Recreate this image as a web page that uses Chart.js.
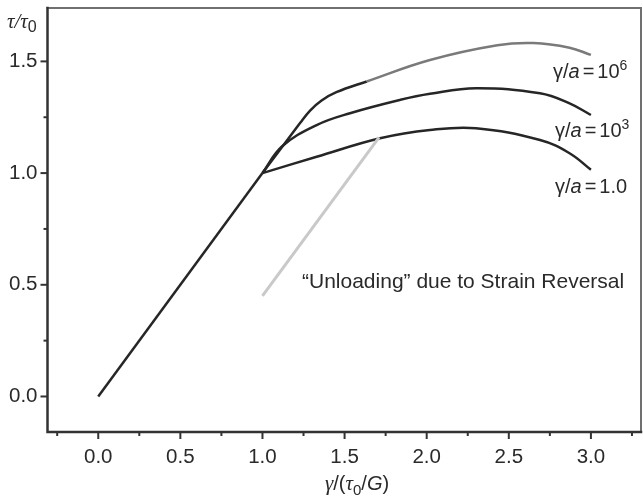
<!DOCTYPE html>
<html>
<head>
<meta charset="utf-8">
<script src="https://cdn.jsdelivr.net/npm/chart.js@4.4.0/dist/chart.umd.min.js"></script>
<style>
html,body{margin:0;padding:0;background:#fff;}
canvas{display:block;}
</style>
</head>
<body>
<canvas id="c" width="643" height="497"></canvas>
<script>
// ---- data ----
const xTickLabels = [0.0, 0.5, 1.0, 1.5, 2.0, 2.5, 3.0];
const yTickLabels = [0.0, 0.5, 1.0, 1.5];
const elasticX = [0.0, 1.0];
const elasticY = [0.0, 1.0];
const curve1X = [1.0, 1.33, 1.716, 2.02, 2.3, 2.69, 2.87, 3.0];
const curve1Y = [1.0, 1.073, 1.156, 1.193, 1.201, 1.148, 1.089, 1.015];
const curve3X = [1.0, 1.12, 1.33, 1.533, 1.84, 2.02, 2.3, 2.69, 2.87, 3.0];
const curve3Y = [1.0, 1.12, 1.215, 1.268, 1.328, 1.355, 1.38, 1.357, 1.312, 1.26];
const curve6X = [1.0, 1.23, 1.29, 1.36, 1.45, 1.635, 2.02, 2.43, 2.65, 2.87, 3.0];
const curve6Y = [1.0, 1.225, 1.28, 1.325, 1.362, 1.41, 1.506, 1.572, 1.582, 1.561, 1.529];
const unloadX = [1.0, 1.71];
const unloadY = [0.45, 1.16];
const seriesLabels = ['γ/a = 1.0', 'γ/a = 10³', 'γ/a = 10⁶'];

const pts = (xs, ys) => xs.map((x, i) => ({x: x, y: ys[i]}));

function drawRuns(ctx, runs, x, y) {
  ctx.save();
  ctx.textBaseline = 'alphabetic';
  ctx.textAlign = 'left';
  let cx = x;
  for (const r of runs) {
    ctx.font = r.font;
    ctx.fillStyle = r.color || '#2a2a2a';
    ctx.fillText(r.t, cx, y + (r.dy || 0));
    cx += ctx.measureText(r.t).width + (r.gap || 0);
  }
  ctx.restore();
}

const SANS = '"Liberation Sans", Arial, sans-serif';
const SERIF = '"Liberation Serif", "DejaVu Serif", serif';

const decor = {
  id: 'decor',
  afterDatasetsDraw(chart) {
    const ctx = chart.ctx;
    const a = chart.chartArea;
    const xs = chart.scales.x, ys = chart.scales.y;
    ctx.save();
    // frame
    ctx.lineCap = 'square';
    ctx.strokeStyle = '#707070';
    ctx.lineWidth = 2;
    ctx.beginPath();
    ctx.moveTo(a.left, a.top); ctx.lineTo(a.right, a.top); ctx.lineTo(a.right, a.bottom);
    ctx.stroke();
    ctx.strokeStyle = '#333';
    ctx.lineWidth = 2.5;
    ctx.beginPath();
    ctx.moveTo(a.left, a.top); ctx.lineTo(a.left, a.bottom); ctx.lineTo(a.right, a.bottom);
    ctx.stroke();
    // ticks
    ctx.lineCap = 'butt';
    ctx.lineWidth = 2;
    ctx.strokeStyle = '#333';
    for (let k = -1; k <= 13; k++) {
      const v = k * 0.25;
      const px = xs.getPixelForValue(v);
      if (px < a.left + 2 || px > a.right - 2) continue;
      const len = (k % 2 === 0) ? 7 : 4;
      ctx.beginPath(); ctx.moveTo(px, a.bottom); ctx.lineTo(px, a.bottom + len); ctx.stroke();
    }
    for (let k = 0; k <= 6; k++) {
      const v = k * 0.25;
      const py = ys.getPixelForValue(v);
      if (py < a.top + 2 || py > a.bottom - 2) continue;
      const len = (k % 2 === 0) ? 7 : 4;
      ctx.beginPath(); ctx.moveTo(a.left, py); ctx.lineTo(a.left - len, py); ctx.stroke();
    }
    ctx.restore();

    // y-axis title  τ/τ0
    drawRuns(ctx, [
      {t: 'τ/τ', font: 'italic 21px ' + SERIF},
      {t: '0', font: '16px ' + SANS, dy: 4}
    ], 7, 28);
    // x-axis title  γ/(τ0/G)
    drawRuns(ctx, [
      {t: 'γ', font: 'italic 21px ' + SERIF},
      {t: '/(', font: '20px ' + SANS},
      {t: 'τ', font: 'italic 21px ' + SERIF},
      {t: '0', font: '15px ' + SANS, dy: 5},
      {t: '/', font: '20px ' + SANS},
      {t: 'G', font: 'italic 20px ' + SANS},
      {t: ')', font: '20px ' + SANS}
    ], 325, 490);

    // curve labels
    const lab = (last, x, y, sup) => {
      const runs = [
        {t: 'γ/', font: '20px ' + SANS},
        {t: 'a', font: 'italic 20px ' + SANS, gap: 3},
        {t: '=', font: '20px ' + SANS, gap: 3},
      ];
      if (sup) {
        runs.push({t: '10', font: '20px ' + SANS});
        runs.push({t: last, font: '14px ' + SANS, dy: -8});
      } else {
        runs.push({t: last, font: '20px ' + SANS});
      }
      drawRuns(ctx, runs, x, y);
    };
    lab('6', 553, 78, true);
    lab('3', 555, 137, true);
    lab('1.0', 555, 193, false);

    // annotation
    ctx.save();
    ctx.font = '21px ' + SANS;
    ctx.fillStyle = '#2a2a2a';
    ctx.textBaseline = 'alphabetic';
    ctx.fillText('“Unloading” due to Strain Reversal', 302, 288);
    ctx.restore();
  }
};

const dark = '#262626';
const curveStyle = {borderColor: dark, borderWidth: 2.5, tension: 0.4, cubicInterpolationMode: 'default'};
new Chart(document.getElementById('c'), {
  type: 'scatter',
  data: {
    datasets: [
      {data: pts(unloadX, unloadY), borderColor: '#c9c9c9', borderWidth: 3, tension: 0},
      {data: pts(elasticX, elasticY), borderColor: dark, borderWidth: 2.5, tension: 0},
      Object.assign({label: seriesLabels[0], data: pts(curve1X, curve1Y)}, curveStyle),
      Object.assign({label: seriesLabels[1], data: pts(curve3X, curve3Y)}, curveStyle),
      Object.assign({label: seriesLabels[2], data: pts(curve6X, curve6Y),
        segment: {borderColor: c => c.p0.parsed.x >= 1.6 ? '#7a7a7a' : dark}}, curveStyle)
    ]
  },
  options: {
    responsive: false,
    devicePixelRatio: 1,
    animation: false,
    showLine: true,
    elements: {point: {radius: 0}, line: {fill: false}},
    layout: {padding: {top: 8, right: 2, left: 0, bottom: 0}},
    plugins: {legend: {display: false}, tooltip: {enabled: false}},
    scales: {
      x: {
        type: 'linear', min: -0.309, max: 3.305,
        afterBuildTicks: s => { s.ticks = xTickLabels.map(v => ({value: v})); },
        afterFit: s => { s.height = 65; s.paddingLeft = 0; s.paddingRight = 0; },
        grid: {display: false, drawTicks: false},
        border: {display: false},
        ticks: {padding: 13, color: '#2a2a2a', font: {family: SANS, size: 20.5}, callback: v => Number(v).toFixed(1), maxRotation: 0}
      },
      y: {
        type: 'linear', min: -0.159, max: 1.739,
        afterBuildTicks: s => { s.ticks = yTickLabels.map(v => ({value: v})); },
        afterFit: s => { s.width = 47.5; s.paddingTop = 0; s.paddingBottom = 0; },
        grid: {display: false, drawTicks: false},
        border: {display: false},
        ticks: {padding: 10, color: '#2a2a2a', font: {family: SANS, size: 20.5}, callback: v => Number(v).toFixed(1)}
      }
    }
  },
  plugins: [decor]
});
</script>
</body>
</html>
